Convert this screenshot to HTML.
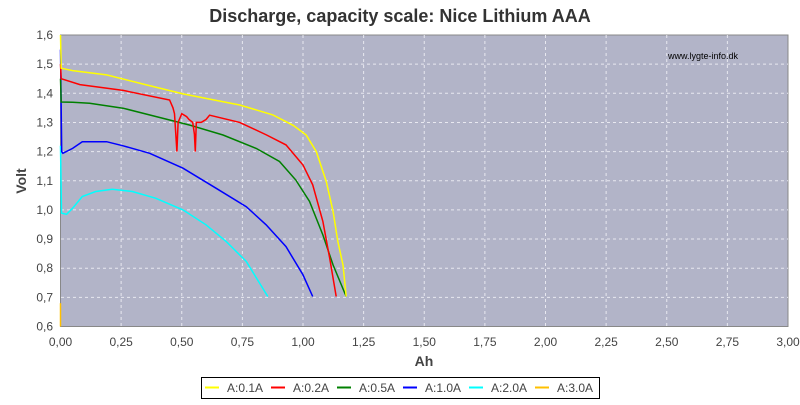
<!DOCTYPE html>
<html><head><meta charset="utf-8"><style>
body{margin:0;background:#fff;font-family:"Liberation Sans",sans-serif}
</style></head><body>
<svg width="800" height="400" xmlns="http://www.w3.org/2000/svg" font-family="Liberation Sans, sans-serif">
<rect width="800" height="400" fill="#fff"/>
<text x="400" y="22" text-anchor="middle" font-size="18" font-weight="bold" fill="#333">Discharge, capacity scale: Nice Lithium AAA</text>
<rect x="60.5" y="35" width="727.5" height="291.5" fill="#b2b4c8" stroke="#888"/>
<g id="grid"></g>
<g id="axes"></g>
<g id="series"></g>
<text x="668" y="59" font-size="9" fill="#000">www.lygte-info.dk</text>
<text x="424" y="366" text-anchor="middle" font-size="14" font-weight="bold" fill="#444">Ah</text>
<text x="26" y="181" text-anchor="middle" font-size="14" font-weight="bold" fill="#444" transform="rotate(-90 26 181)">Volt</text>
<rect x="201.5" y="377.5" width="398" height="21" fill="#fff" stroke="#000"/>
<g id="legend"></g>
</svg>
<script>
const xTicks=["0,00","0,25","0,50","0,75","1,00","1,25","1,50","1,75","2,00","2,25","2,50","2,75","3,00"];
const yTicks=["0,6","0,7","0,8","0,9","1,0","1,1","1,2","1,3","1,4","1,5","1,6"];
const seriesNames=["A:0.1A","A:0.2A","A:0.5A","A:1.0A","A:2.0A","A:3.0A"];
const seriesColors=["#ffff00","#ff0000","#008000","#0000ff","#00ffff","#ffc000"];
const s01x=[0,0.003,0.05,0.19,0.35,0.505,0.739,0.876,0.96,1.013,1.055,1.096,1.124,1.144,1.165,1.178];
const s01y=[1.6,1.486,1.478,1.463,1.43,1.398,1.36,1.326,1.29,1.257,1.2,1.097,0.994,0.891,0.811,0.703];
const s02x=[0,0.003,0.08,0.258,0.45,0.464,0.47,0.48,0.485,0.49,0.5,0.52,0.53,0.545,0.552,0.556,0.56,0.58,0.6,0.615,0.739,0.85,0.93,1.0,1.04,1.082,1.11,1.137];
const s02y=[1.5,1.45,1.43,1.41,1.377,1.35,1.33,1.2,1.3,1.31,1.33,1.32,1.31,1.3,1.26,1.2,1.3,1.3,1.31,1.325,1.3,1.257,1.223,1.154,1.086,0.96,0.834,0.703];
const s05x=[0,0.003,0.05,0.12,0.258,0.395,0.533,0.67,0.807,0.903,0.97,1.027,1.082,1.124,1.178];
const s05y=[1.45,1.37,1.369,1.366,1.349,1.32,1.291,1.257,1.211,1.166,1.103,1.029,0.914,0.811,0.703];
const s10x=[0,0.005,0.01,0.05,0.09,0.19,0.258,0.368,0.505,0.642,0.766,0.848,0.93,1.0,1.04];
const s10y=[1.55,1.2,1.194,1.211,1.234,1.234,1.22,1.194,1.143,1.074,1.011,0.949,0.874,0.777,0.703];
const s20x=[0,0.004,0.025,0.05,0.09,0.145,0.213,0.296,0.392,0.505,0.6,0.684,0.766,0.855];
const s20y=[1.22,0.989,0.985,1.006,1.046,1.063,1.071,1.063,1.04,1.0,0.949,0.891,0.823,0.703];
const s30x=[0,0];
const s30y=[0.6,0.68];
const X=v=>60.5+v*727.5/3, Y=v=>326.5-(v-0.6)*291.5;
const NS="http://www.w3.org/2000/svg";
function mk(tag,attrs,parent){const e=document.createElementNS(NS,tag);for(const k in attrs)e.setAttribute(k,attrs[k]);document.getElementById(parent).appendChild(e);return e;}
const grid="grid",axes="axes";
xTicks.forEach((t,i)=>{const v=i*0.25,x=X(v);
 if(i>0&&i<xTicks.length-1){const l=mk("line",{x1:x,x2:x,y1:35,y2:326,stroke:"#e8e8f0","stroke-dasharray":"3,3"},grid);
 
 }
 const tx=mk("text",{x:x,y:346,"text-anchor":"middle","font-size":"12",fill:"#444"},axes);tx.textContent=t;
 
 });
yTicks.forEach((t,i)=>{const v=0.6+i*0.1,y=Y(v);
 if(i>0&&i<yTicks.length-1){const l=mk("line",{x1:61,x2:788,y1:y,y2:y,stroke:"#e8e8f0","stroke-dasharray":"3,3"},grid);
 
 }
 const tx=mk("text",{x:53,y:y+4,"text-anchor":"end","font-size":"12",fill:"#444"},axes);tx.textContent=t;
 
 });
const allX=[s01x,s02x,s05x,s10x,s20x,s30x],allY=[s01y,s02y,s05y,s10y,s20y,s30y];
[5,4,3,2,1,0].forEach(k=>{const pts=allX[k].map((v,j)=>X(v).toFixed(1)+","+Y(allY[k][j]).toFixed(1)).join(" ");
 const p=mk("polyline",{points:pts,fill:"none",stroke:seriesColors[k],"stroke-width":"1.5"},"series");
 
 });
seriesNames.forEach((n,i)=>{const x0=205+i*66;
 const l=mk("line",{x1:x0,x2:x0+14,y1:387.5,y2:387.5,stroke:seriesColors[i],"stroke-width":"2"},"legend");
 
 
 const t=mk("text",{x:x0+22,y:392,"font-size":"12",fill:"#444"},"legend");t.textContent=n;
 
 });
</script>
</body></html>
